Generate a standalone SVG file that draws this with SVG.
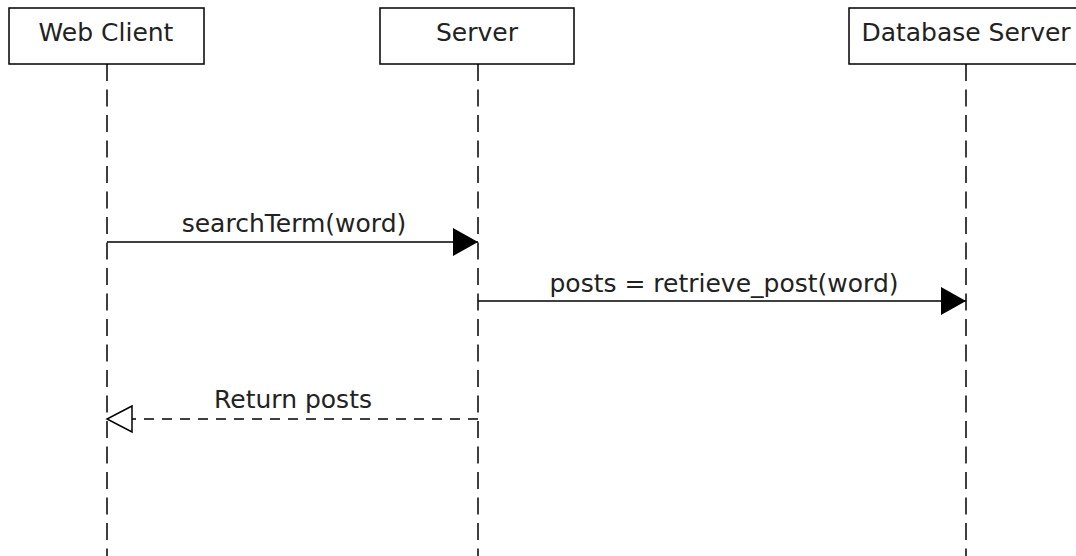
<svg xmlns="http://www.w3.org/2000/svg" width="1076" height="556" viewBox="0 0 1076 556">
<style>
.box{fill:#fff;stroke:#000;stroke-width:1.5}
.life{stroke:#000;stroke-width:1.5;stroke-dasharray:17 8.5;fill:none}
.msg{stroke:#000;stroke-width:1.5;fill:none}
.ret{stroke:#000;stroke-width:1.5;fill:none;stroke-dasharray:10 8}
text{font-family:"DejaVu Sans","Liberation Sans",sans-serif;font-size:25px;fill:#222;text-anchor:middle}
</style>
<defs>
<marker id="filled" markerWidth="26" markerHeight="28" refX="25" refY="14" orient="auto" markerUnits="userSpaceOnUse">
<path d="M0,0 L25,14 L0,28 Z" fill="#000"/>
</marker>
</defs>
<rect width="1076" height="556" fill="#fff"/>
<g id="lifelines">
<line class="life" x1="107" y1="64" x2="107" y2="556"/>
<line class="life" x1="478" y1="64" x2="478" y2="556"/>
<line class="life" x1="966" y1="64" x2="966" y2="556"/>
</g>
<g id="web-client">
<rect class="box" x="9" y="8" width="195" height="56"/>
<text x="106" y="41">Web Client</text>
</g>
<g id="server">
<rect class="box" x="380" y="8" width="194" height="56"/>
<text x="477" y="41">Server</text>
</g>
<g id="database-server">
<rect class="box" x="849" y="8" width="234" height="56"/>
<text x="966" y="41">Database Server</text>
</g>
<g id="connectors">
<line class="msg" x1="107" y1="242" x2="478" y2="242" marker-end="url(#filled)"/>
<text x="294" y="232">searchTerm(word)</text>
<line class="msg" x1="478" y1="301" x2="966" y2="301" marker-end="url(#filled)"/>
<text x="724" y="292">posts = retrieve_post(word)</text>
<line class="ret" x1="478" y1="419" x2="107" y2="419"/>
<path d="M132,406 L107,419 L132,432 Z" fill="#fff" stroke="#000" stroke-width="1.5"/>
<text x="293" y="408">Return posts</text>
</g>
</svg>
